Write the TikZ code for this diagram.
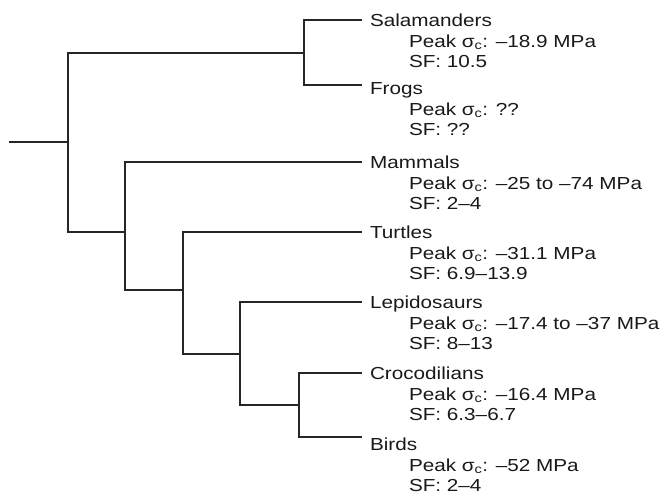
\documentclass[tikz,border=0pt]{standalone}
\usepackage{fontspec}
\setmainfont{Liberation Sans}[FakeStretch=1.19]
\usetikzlibrary{positioning}

\newcommand{\peak}[1]{Peak σ\textsubscript{c}: #1}

\begin{document}
\begin{tikzpicture}[
        x=1pt, y=-1pt,
        font=\fontsize{17.4pt}{20.5pt}\selectfont,
        taxon/.style={inner sep=0pt, outer xsep=8pt, outer ysep=0pt, text height=12pt, text depth=0pt, anchor=west, text=black!90},
        info/.style={inner sep=0pt, outer sep=0pt, align=left, text=black!90},
        branch/.style={line width=1.2pt, draw=black!85}
    ]
        \useasboundingbox (0,0) rectangle (664,498);

        % Taxa
        \node[taxon] (sal) at (362,20) {Salamanders};
        \node[taxon] (frog) at (362,88) {Frogs};
        \node[taxon] (mam) at (362,162) {Mammals};
        \node[taxon] (tur) at (362,232) {Turtles};
        \node[taxon] (lep) at (362,302) {Lepidosaurs};
        \node[taxon] (cro) at (362,373) {Crocodilians};
        \node[taxon] (bir) at (362,444) {Birds};

        % Stress and safety factors
        \node[info] (salinfo) [below right=8.5pt and 47pt of sal.base west] {\peak{–18.9 MPa}\\SF: 10.5};
        \node[info] (froginfo) [below right=8.5pt and 47pt of frog.base west] {\peak{??}\\SF: ??};
        \node[info] (maminfo) [below right=8.5pt and 47pt of mam.base west] {\peak{–25 to –74 MPa}\\SF: 2–4};
        \node[info] (turinfo) [below right=8.5pt and 47pt of tur.base west] {\peak{–31.1 MPa}\\SF: 6.9–13.9};
        \node[info] (lepinfo) [below right=8.5pt and 47pt of lep.base west] {\peak{–17.4 to –37 MPa}\\SF: 8–13};
        \node[info] (croinfo) [below right=8.5pt and 47pt of cro.base west] {\peak{–16.4 MPa}\\SF: 6.3–6.7};
        \node[info] (birinfo) [below right=8.5pt and 47pt of bir.base west] {\peak{–52 MPa}\\SF: 2–4};

        % Clades
        \coordinate (base) at (9,142);
        \coordinate (root) at (68,142);
        \coordinate (amph) at (304,53);
        \coordinate (amn) at (125,232);
        \coordinate (rept) at (183,290);
        \coordinate (saur) at (240,354);
        \coordinate (arch) at (299,405);

        % Branches
        \draw[branch] (base) -- (root);
        \draw[branch] (root) |- (amph);
        \draw[branch] (root) |- (amn);

        \draw[branch] (amph) |- (sal);
        \draw[branch] (amph) |- ([yshift=3pt]frog.west);

        \draw[branch] (amn) |- (mam);
        \draw[branch] (amn) |- (rept);

        \draw[branch] (rept) |- (tur);
        \draw[branch] (rept) |- (saur);

        \draw[branch] (saur) |- (lep);
        \draw[branch] (saur) |- (arch);

        \draw[branch] (arch) |- (cro);
        \draw[branch] (arch) |- ([yshift=7pt]bir.west);
    \end{tikzpicture}
\end{document}
